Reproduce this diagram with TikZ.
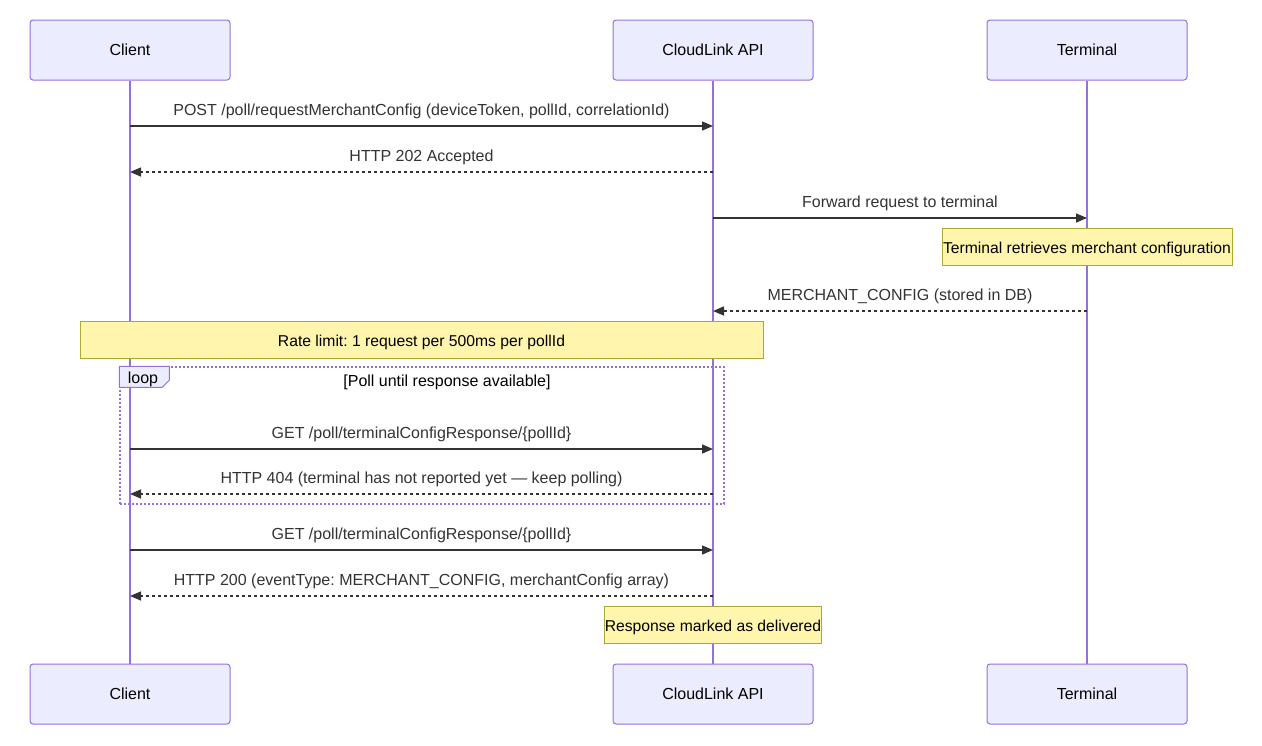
\documentclass[tikz,border=0pt]{standalone}
\usepackage{fontspec}
\setmainfont{Liberation Sans}
\usepackage{tikz}
\usetikzlibrary{arrows.meta}
\usetikzlibrary{calc}
\frenchspacing
\definecolor{actorfill}{HTML}{ECECFF}
\definecolor{actorline}{HTML}{9370DB}
\definecolor{notefill}{HTML}{FFF5AD}
\definecolor{noteline}{HTML}{AAAA33}
\definecolor{msgline}{HTML}{333333}
\tikzstyle{actor} = [rectangle, minimum width=200pt, minimum height=60pt, rounded corners=3pt, draw=actorline, line width=1pt, fill=actorfill, text=black, font=\fontsize{16}{19}\selectfont]
\tikzstyle{lifeline} = [draw=actorline, line width=1.5pt]
\tikzstyle{note} = [rectangle, minimum height=37pt, inner sep=0pt, text height=16pt, text depth=2pt, draw=noteline, line width=1pt, fill=notefill, text=black, font=\fontsize{15.7}{19}\selectfont]
\tikzstyle{msg} = [draw=msgline, line width=1.5pt, -{Triangle[length=11pt,width=9pt]}]
\tikzstyle{reply} = [msg, dash pattern=on 3pt off 3pt]
\tikzstyle{msglabel} = [text=msgline, font=\fontsize{16}{19}\selectfont, text height=11pt, text depth=3pt, inner sep=0pt, above=7pt]
\tikzstyle{loopframe} = [rectangle, draw=actorline, line width=1.5pt, dash pattern=on 2pt off 2pt]

\begin{document}
\begin{tikzpicture}[x=1pt, y=-1pt]
    \useasboundingbox (0,0) rectangle (1262,745);
    % participants
    \node[actor] (client) at (130,50) {Client};
    \node[actor] (api) at (713,50) {CloudLink API};
    \node[actor] (term) at (1087,50) {Terminal};
    \node[actor] (clientb) at (130,694) {Client};
    \node[actor] (apib) at (713,694) {CloudLink API};
    \node[actor] (termb) at (1087,694) {Terminal};
    \draw[lifeline] (client) -- (clientb);
    \draw[lifeline] (api) -- (apib);
    \draw[lifeline] (term) -- (termb);

    \coordinate (m1) at (0,126);
    \coordinate (m2) at (0,172);
    \coordinate (m3) at (0,218);
    \coordinate (m4) at (0,311);
    \coordinate (m5) at (0,449);
    \coordinate (m6) at (0,494);
    \coordinate (m7) at (0,550);
    \coordinate (m8) at (0,596);

    \draw[msg] (client |- m1) -- node[msglabel] {POST /poll/requestMerchantConfig (deviceToken, pollId, correlationId)} (api |- m1);
    \draw[reply] (api |- m2) -- node[msglabel] {HTTP 202 Accepted} (client |- m2);
    \draw[msg] (api |- m3) -- node[msglabel] {Forward request to terminal} (term |- m3);
    \node[note, minimum width=290pt] (retrieve) at (1087,246.5) {Terminal retrieves merchant configuration};
    \draw[reply] (term |- m4) -- node[msglabel] {MERCHANT\_CONFIG (stored in DB)} (api |- m4);
    \node[note, minimum width=683pt] (ratelimit) at (421.5,339.5) {Rate limit: 1 request per 500ms per pollId};

    % loop
    \node[loopframe, minimum width=604pt, minimum height=137pt] (poll) at (422,435.5) {};
    \draw[draw=actorline, fill=actorfill, line width=1pt] (poll.north west) -- ++(50,0) -- ++(0,14) -- ++(-7,7) -- ++(-43,0) -- cycle;
    \node[font=\fontsize{16}{19}\selectfont, text=black] (looplabel) at (143,379) {loop};
    \node[font=\fontsize{16}{19}\selectfont, text=black] (loopcond) at (447,382) {[Poll until response available]};
    \draw[msg] (client |- m5) -- node[msglabel] {GET /poll/terminalConfigResponse/\{pollId\}} (api |- m5);
    \draw[reply] (api |- m6) -- node[msglabel] {HTTP 404 (terminal has not reported yet — keep polling)} (client |- m6);

    \draw[msg] (client |- m7) -- node[msglabel] {GET /poll/terminalConfigResponse/\{pollId\}} (api |- m7);
    \draw[reply] (api |- m8) -- node[msglabel] {HTTP 200 (eventType: MERCHANT\_CONFIG, merchantConfig array)} (client |- m8);
    \node[note, minimum width=214pt] (delivered) at (713,624.5) {Response marked as delivered};
\end{tikzpicture}
\end{document}
